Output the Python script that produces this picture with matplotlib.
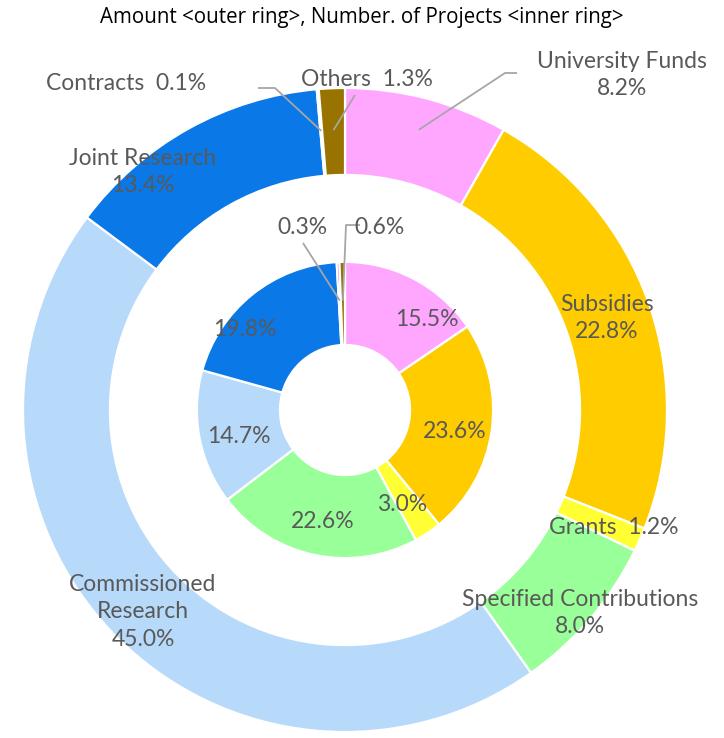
import numpy as np
import matplotlib
matplotlib.use("Agg")
import matplotlib.pyplot as plt

categories = ["University Funds", "Subsidies", "Grants", "Specified Contributions",
              "Commissioned Research", "Joint Research", "Contracts", "Others"]
amount_pct = [8.2, 22.8, 1.2, 8.0, 45.0, 13.4, 0.1, 1.3]      # outer ring
projects_pct = [15.5, 23.6, 3.0, 22.6, 14.7, 19.8, 0.3, 0.6]  # inner ring
colors = ["#FFA6FF", "#FFCC00", "#FFFF33", "#99FF99",
          "#B7DAFA", "#0A78E6", "#CC00CC", "#997300"]

W, H = 724, 738
CX, CY, R = 345, 410, 322   # pie centre / radius in pixels

def p(px, py):
    # pixel position -> data coords
    return (px - CX) / R, (CY - py) / R

fig = plt.figure(figsize=(W / 100, H / 100), dpi=100)
ax = fig.add_axes([(CX - R) / W, (H - CY - R) / H, 2 * R / W, 2 * R / H])

r_out, w_out = 1.0, 0.27
r_in, w_in = 0.46, 0.258
edge = dict(edgecolor="white", linewidth=1.6)

outer, _ = ax.pie(amount_pct, radius=r_out, colors=colors, startangle=90,
                  counterclock=False, wedgeprops=dict(width=w_out, **edge))
inner, _ = ax.pie(projects_pct, radius=r_in, colors=colors, startangle=90,
                  counterclock=False, wedgeprops=dict(width=w_in, **edge))
ax.set_xlim(-1, 1)
ax.set_ylim(-1, 1)
ax.set_aspect("equal")
ax.axis("off")

font = "Lato"
tcol = "#595959"
fs = 16.5

def mid(w, r):
    a = np.deg2rad((w.theta1 + w.theta2) / 2)
    return r * np.cos(a), r * np.sin(a)

# outer labels (text position in pixels)
outer_txt = [
    ("University Funds\n8.2%", (622, 75)),
    ("Subsidies\n22.8%", (607, 318)),
    ("Grants  1.2%", (614, 528)),
    ("Specified Contributions\n8.0%", (580, 613)),
    ("Commissioned\nResearch\n45.0%", (143, 612)),
    ("Joint Research\n13.4%", (143, 172)),
    ("Contracts  0.1%", (126, 83)),
    ("Others  1.3%", (367, 80)),
]
for txt, (px, py) in outer_txt:
    x, y = p(px, py)
    ax.text(x, y, txt, ha="center", va="center", fontsize=fs, color=tcol,
            family=font, linespacing=1.38, clip_on=False)

inner_txt = [(427, 320), (455, 432), (402, 505), (323, 522),
             (239, 437), (245, 330), (302, 228), (380, 228)]
for v, (px, py) in zip(projects_pct, inner_txt):
    x, y = p(px, py)
    ax.text(x, y, f"{v:.1f}%", ha="center", va="center", fontsize=fs,
            color=tcol, family=font)

lc = "#A6A6A6"
def leader(w, r, pts):
    xs = [p(*q)[0] for q in pts]
    ys = [p(*q)[1] for q in pts]
    mx, my = mid(w, r)
    ax.plot(xs + [mx], ys + [my], color=lc, lw=1.3, solid_capstyle="butt",
            clip_on=False)

# leader lines for the small / distant labels
leader(outer[0], 0.9, [(517, 73), (505, 73)])
leader(outer[6], 0.87, [(258, 88), (275, 88)])
leader(outer[7], 0.87, [(355, 95)])
leader(inner[6], 0.34, [(303, 243)])
leader(inner[7], 0.34, [(360, 225), (346, 225)])

fig.text(0.5, 1 - 18 / H, "Amount <outer ring>, Number. of Projects <inner ring>",
         ha="center", va="center", fontsize=14.8, family="Open Sans", color="black")

fig.savefig("out.png", dpi=100)
